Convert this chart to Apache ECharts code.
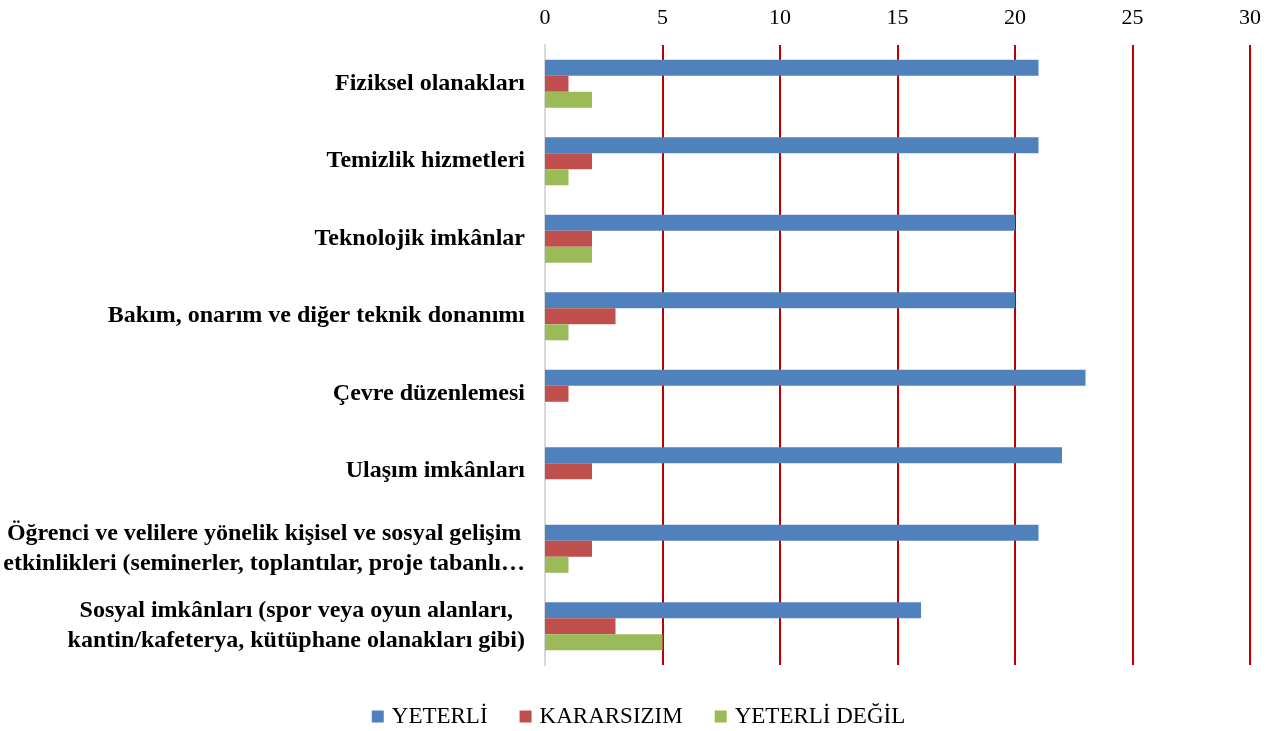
<!DOCTYPE html>
<html>
<head>
<meta charset="utf-8">
<script src="https://cdn.jsdelivr.net/npm/echarts@6/dist/echarts.min.js"></script>
<style>
  html, body { margin: 0; padding: 0; background: #fff; }
  #chart { width: 1277px; height: 731px; }
</style>
</head>
<body>
<div id="chart"></div>
<script>
// kategoriler (yukaridan asagiya)
var categories = [
  'Fiziksel olanakları',
  'Temizlik hizmetleri',
  'Teknolojik imkânlar',
  'Bakım, onarım ve diğer teknik donanımı',
  'Çevre düzenlemesi',
  'Ulaşım imkânları',
  'Öğrenci ve velilere yönelik kişisel ve sosyal gelişim\netkinlikleri (seminerler, toplantılar, proje tabanlı…',
  'Sosyal imkânları (spor veya oyun alanları,\nkantin/kafeterya, kütüphane olanakları gibi)'
]
var yeterli = [21, 21, 20, 20, 23, 22, 21, 16]
var kararsizim = [1, 2, 2, 3, 1, 2, 2, 3]
var yeterliDegil = [2, 1, 2, 1, 0, 0, 1, 5]
var xTicks = [0, 30, 5] // min, max, interval

var font = '"Liberation Serif", "Times New Roman", serif'
var myChart = echarts.init(document.getElementById('chart'))
var option = {
  animation: false,
  color: ['#4F81BD', '#C0504D', '#9BBB59'],
  textStyle: { fontFamily: font },
  grid: { left: 545, right: 27, top: 45, bottom: 66 },
  legend: {
    bottom: -2,
    left: 'center',
    itemWidth: 12,
    itemHeight: 12,
    itemGap: 32,
    icon: 'rect',
    textStyle: { fontFamily: font, fontSize: 23, color: '#000', padding: [0, 0, 0, 3] },
    data: ['YETERLİ', 'KARARSIZIM', 'YETERLİ DEĞİL']
  },
  xAxis: {
    type: 'value',
    position: 'top',
    min: xTicks[0],
    max: xTicks[1],
    interval: xTicks[2],
    axisLine: { show: false },
    axisTick: { show: false },
    axisLabel: { fontFamily: font, fontSize: 22, color: '#000', margin: 16 },
    splitLine: { lineStyle: { color: '#C00000', width: 2 } }
  },
  yAxis: {
    type: 'category',
    inverse: true,
    data: categories,
    axisLine: { show: true, lineStyle: { color: '#D9D9D9', width: 2 } },
    axisTick: { show: false },
    axisLabel: {
      margin: 20,
      fontFamily: font,
      fontSize: 24,
      fontWeight: 'bold',
      color: '#000',
      lineHeight: 30,
      interval: 0,
      formatter: function (v) {
        // cok satirli etiketler ortalanir
        if (v.indexOf('\n') < 0) return v
        return v.split('\n').map(function (s) { return '{c|' + s + '}' }).join('\n')
      },
      rich: {
        c: { align: 'center', fontFamily: font, fontSize: 24, fontWeight: 'bold', color: '#000', lineHeight: 30 }
      }
    }
  },
  series: [
    { name: 'YETERLİ', type: 'bar', data: yeterli, barGap: '0%', barCategoryGap: '38%' },
    { name: 'KARARSIZIM', type: 'bar', data: kararsizim, barGap: '0%', barCategoryGap: '38%' },
    { name: 'YETERLİ DEĞİL', type: 'bar', data: yeterliDegil, barGap: '0%', barCategoryGap: '38%' }
  ]
}
myChart.setOption(option)
window.addEventListener('resize', () => {
  myChart.resize()
})
</script>
</body>
</html>
